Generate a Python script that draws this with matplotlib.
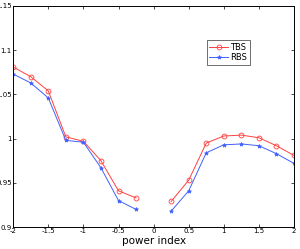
import numpy as np
import matplotlib
matplotlib.use("Agg")
import matplotlib.pyplot as plt

# power index values, split in two segments (no point at 0)
x_left = [-2, -1.75, -1.5, -1.25, -1, -0.75, -0.5, -0.25]
x_right = [0.25, 0.5, 0.75, 1, 1.25, 1.5, 1.75, 2]

tbs_left = [1.081, 1.070, 1.054, 1.002, 0.997, 0.975, 0.941, 0.933]
tbs_right = [0.929, 0.953, 0.995, 1.003, 1.004, 1.001, 0.992, 0.981]

rbs_left = [1.073, 1.063, 1.046, 0.998, 0.996, 0.967, 0.930, 0.920]
rbs_right = [0.918, 0.941, 0.984, 0.993, 0.994, 0.992, 0.983, 0.972]

xticks = [-2, -1.5, -1, -0.5, 0, 0.5, 1, 1.5, 2]
xticklabels = ["-2", "-1.5", "-1", "-0.5", "0", "0.5", "1", "1.5", "2"]
yticks = [0.9, 0.95, 1, 1.05, 1.1, 1.15]
yticklabels = ["0.9", "0.95", "1", "1.05", "1.1", "1.15"]

red = "#ff4040"
blue = "#4060ff"

fig = plt.figure(figsize=(3.0, 2.49), dpi=100)
ax = fig.add_axes([0.044, 0.088, 0.936, 0.888])

ax.plot(x_left, tbs_left, color=red, lw=0.7, marker="o", ms=3.5,
        mfc="none", mew=0.6, label="TBS")
ax.plot(x_right, tbs_right, color=red, lw=0.7, marker="o", ms=3.5,
        mfc="none", mew=0.6)
ax.plot(x_left, rbs_left, color=blue, lw=0.7, marker="*", ms=3,
        mew=0.5, label="RBS")
ax.plot(x_right, rbs_right, color=blue, lw=0.7, marker="*", ms=3,
        mew=0.5)

ax.set_xlim(-2, 2)
ax.set_ylim(0.9, 1.15)
ax.set_xticks(xticks)
ax.set_xticklabels(xticklabels)
ax.set_yticks(yticks)
ax.set_yticklabels(yticklabels)
ax.tick_params(direction="in", top=True, right=True, length=2.5, width=0.5,
               labelsize=5, pad=1)
for s in ax.spines.values():
    s.set_linewidth(0.7)
ax.set_xlabel("power index", fontsize=7.5, labelpad=1)

leg = ax.legend(loc="upper left", bbox_to_anchor=(0.69, 0.845), fontsize=6,
                frameon=True, fancybox=False, edgecolor="black",
                handlelength=2.2, borderpad=0.3, labelspacing=0.2,
                handletextpad=0.3, borderaxespad=0)
leg.get_frame().set_linewidth(0.5)

fig.savefig("out.png", dpi=100)
